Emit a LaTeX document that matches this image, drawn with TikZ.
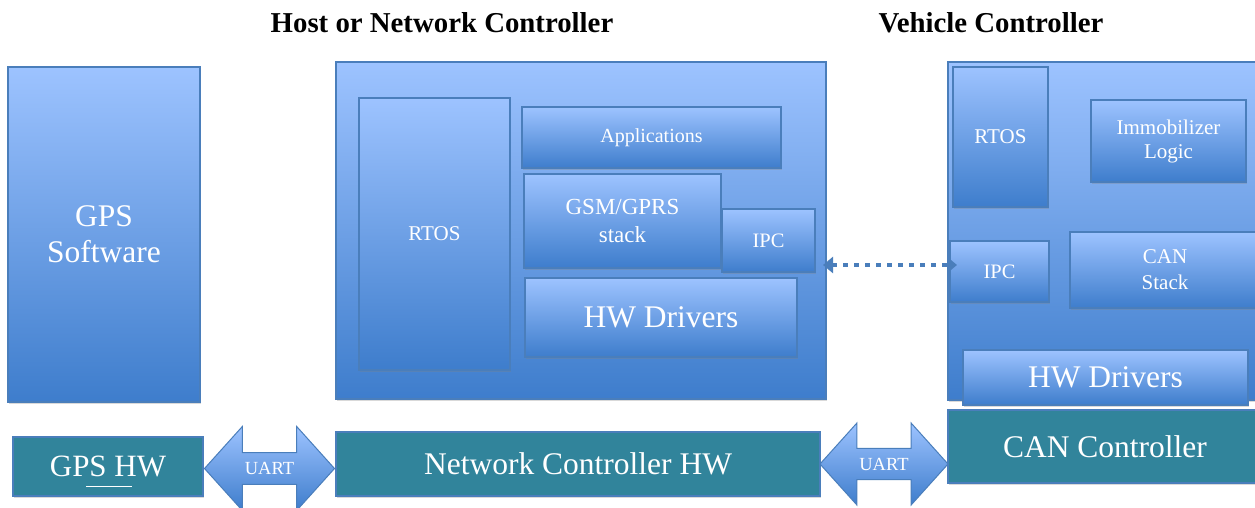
\documentclass[tikz,border=0pt]{standalone}
\usepackage{fontspec}
\setmainfont{Liberation Serif}
\usepackage{tikz}
\usetikzlibrary{positioning}
\usetikzlibrary{calc}
\usetikzlibrary{shapes.arrows}
\usetikzlibrary{arrows.meta}
\usetikzlibrary{shadows}
\definecolor{boxtop}{RGB}{157,195,255}
\definecolor{boxbottom}{RGB}{62,125,204}
\definecolor{boxborder}{RGB}{74,126,187}
\definecolor{hwteal}{RGB}{49,132,155}
\newcommand{\fsz}[2]{\fontsize{#1}{#2}\selectfont}
\tikzset{basic box/.style={draw=boxborder,
                           line width=1.2pt,
                           inner sep=0pt,
                           outer sep=0pt,
                           anchor=north west,
                           text=white,
                           align=center}}
\tikzset{sz/.style 2 args={minimum width=#1pt,minimum height=#2pt}}
\tikzset{sw box/.style={basic box,
                        top color=boxtop,
                        bottom color=boxbottom,
                        drop shadow={shadow xshift=1pt,shadow yshift=-2pt,opacity=.3}}}
\tikzset{hw box/.style={basic box,
                        fill=hwteal,
                        drop shadow={shadow xshift=1pt,shadow yshift=-2pt,opacity=.3}}}

\begin{document}
\begin{tikzpicture}
    [
      x=1pt,y=-1pt,
      title/.style={font=\bfseries\fsz{28.8}{32},text=black},
      uart arrow/.style={double arrow,
      draw=boxborder,
      line width=1pt,
      top color=boxtop,
      bottom color=boxbottom,
      double arrow head extend=11pt,
      double arrow tip angle=96,
      inner sep=0pt,
      text=white,
      font=\fsz{18.5}{20}},
      ipc link/.style={draw=boxborder,
      line width=4.5pt,
      dash pattern=on 5pt off 6pt,
      {Triangle[length=10pt,width=16pt]}-{Triangle[length=10pt,width=16pt]}},
    ]
    \useasboundingbox (0,0) rectangle (1255,507);
    \clip (0,0) rectangle (1255,507);

    % titles
    \node [title] (hosttitle) at (442,23) {Host or Network Controller};
    \node [title] (vehtitle) at (991,23) {Vehicle Controller};

    % outer blocks
    \node [sw box,sz={192}{335},font=\fsz{31.5}{36}] (gpssw) at (8,67) {GPS\\Software};
    \node [sw box,sz={490}{337}] (host) at (336,62) {};
    \node [sw box,sz={314}{338}] (vehicle) at (948,62) {};

    % host blocks
    \node [sw box,sz={151}{272},font=\fsz{21}{24}] (hrtos) at (359,98) {RTOS};
    \node [sw box,sz={259}{61},font=\fsz{20}{24}] (happs) at (522,107) {Applications};
    \node [sw box,sz={197}{94},font=\fsz{23}{28}] (hgsm) at (524,174) {GSM/GPRS\\stack};
    \node [sw box,sz={93}{63},font=\fsz{20.5}{24}] (hipc) at (722,209) {IPC};
    \node [sw box,sz={272}{79},font=\fsz{31.5}{36}] (hdrv) at (525,278) {HW Drivers};

    % vehicle blocks
    \node [sw box,sz={95}{140},font=\fsz{21}{24}] (vrtos) at (953,67) {RTOS};
    \node [sw box,sz={155}{82},font=\fsz{21}{24}] (vimmo) at (1091,100) {Immobilizer\\Logic};
    \node [sw box,sz={99}{61},font=\fsz{20.5}{24}] (vipc) at (950,241) {IPC};
    \node [sw box,sz={190}{76},font=\fsz{21}{26}] (vcan) at (1070,232) {CAN\\Stack};
    \node [sw box,sz={285}{55},font=\fsz{31.5}{36}] (vdrv) at (963,350) {HW Drivers};

    % hardware
    \node [hw box,sz={190}{59},font=\fsz{31}{36}] (gpshw) at (13,437) {GPS HW};
    \node [hw box,sz={484}{64},font=\fsz{31.5}{36}] (nchw) at (336,432) {Network Controller HW};
    \node [hw box,sz={314}{73},font=\fsz{31.5}{36}] (canctl) at (948,410) {CAN Controller};
    \draw [white,line width=.8pt] ($(gpshw.south)+(-22,-10)$) -- ($(gpshw.south)+(24,-10)$);

    % links
    \node [uart arrow,minimum height=130pt,minimum width=84pt]
      (uart1) at ($(gpshw.east)!.5!(gpshw.east -| nchw.west)+(0,2)$) {UART};
    \node [uart arrow,minimum height=128pt,minimum width=82pt]
      (uart2) at ($(nchw.east)!.5!(nchw.east -| canctl.west)$) {UART};
    \path [ipc link] ([xshift=8pt,yshift=-24.5pt]hipc.east) -- ([xshift=7pt,yshift=6.5pt]vipc.west);

  \end{tikzpicture}
\end{document}
